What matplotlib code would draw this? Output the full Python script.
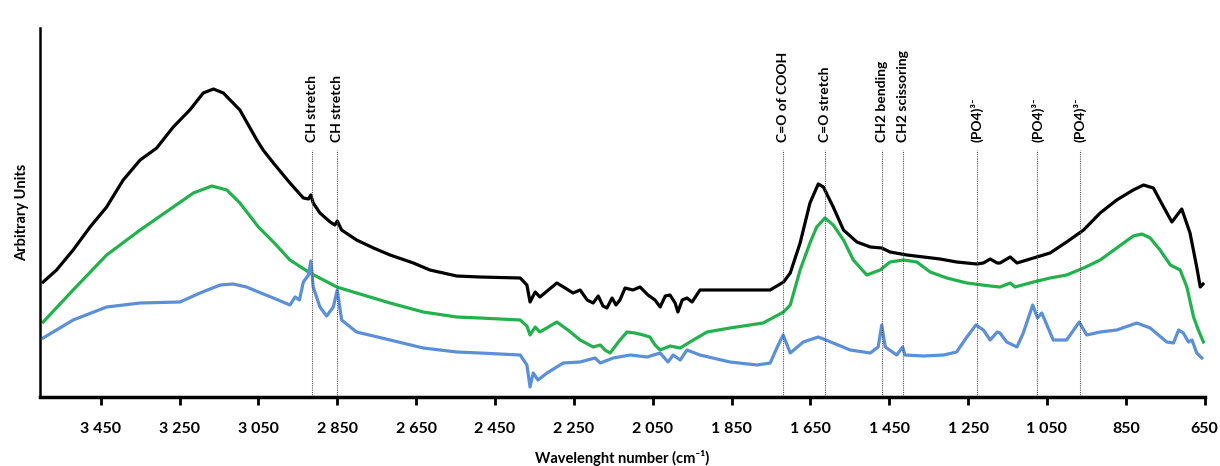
import matplotlib
matplotlib.use("Agg")
import matplotlib.pyplot as plt

# ---- data (wavenumber cm-1, arbitrary units) ----
black_wn = [3596, 3562, 3520, 3477, 3435, 3393, 3350, 3308, 3266, 3224, 3190, 3164, 3139, 3097, 3054,
            3038, 3012, 2970, 2936, 2923, 2917, 2911, 2894, 2868, 2856, 2850, 2839, 2801, 2758, 2716,
            2657, 2615, 2547, 2488, 2386, 2369, 2361, 2348, 2336, 2293, 2272, 2252, 2234, 2216, 2201,
            2188, 2176, 2166, 2153, 2143, 2133, 2120, 2100, 2082, 2062, 2044, 2031, 2018, 2006, 1993,
            1986, 1975, 1963, 1950, 1930, 1854, 1752, 1718, 1701, 1676, 1651, 1630, 1617, 1592, 1566,
            1532, 1498, 1469, 1448, 1405, 1363, 1321, 1279, 1228, 1211, 1194, 1176, 1169, 1143, 1126,
            1084, 1042, 1000, 957, 915, 873, 831, 805, 780, 754, 733, 708, 687, 670, 661, 654]
black_val = [115, 127, 147, 170, 190, 217, 237, 249, 270, 287, 304, 308, 304, 287, 257,
             247, 234, 214, 199, 198, 202, 194, 184, 175, 172, 176, 167, 157, 149, 142,
             134, 127, 121, 120, 119, 112, 95, 105, 100, 114, 109, 104, 107, 97, 94,
             101, 91, 89, 99, 92, 97, 109, 107, 110, 102, 97, 90, 101, 102, 94,
             85, 97, 99, 95, 107, 107, 107, 115, 124, 154, 194, 213, 210, 190, 167,
             155, 150, 149, 145, 142, 140, 138, 135, 133, 134, 138, 134, 134, 140, 134,
             139, 144, 155, 167, 184, 197, 207, 212, 209, 190, 175, 188, 164, 130, 110, 113]

green_wn = [3596, 3520, 3435, 3350, 3266, 3215, 3168, 3130, 3097, 3050, 3012, 2970, 2919, 2851, 2801,
            2716, 2632, 2547, 2488, 2386, 2369, 2361, 2348, 2336, 2293, 2265, 2234, 2201, 2183, 2171,
            2158, 2133, 2115, 2095, 2074, 2057, 2044, 2031, 2006, 1980, 1947, 1912, 1854, 1770, 1718,
            1701, 1676, 1651, 1634, 1613, 1592, 1566, 1541, 1507, 1473, 1448, 1414, 1380, 1346, 1304,
            1253, 1194, 1169, 1143, 1131, 1084, 1042, 1000, 957, 915, 873, 831, 809, 788, 763,
            737, 712, 695, 678, 666, 653]
green_val = [75, 107, 142, 167, 190, 204, 211, 207, 194, 170, 155, 137, 124, 110, 104,
             94, 85, 80, 79, 77, 71, 62, 70, 65, 75, 67, 57, 50, 52, 47,
             44, 57, 65, 64, 62, 60, 52, 47, 51, 49, 57, 65, 69, 74, 85,
             92, 127, 154, 170, 179, 172, 157, 137, 122, 127, 135, 137, 135, 125, 119,
             114, 111, 110, 114, 110, 115, 119, 122, 129, 137, 149, 161, 163, 159, 147,
             132, 127, 110, 80, 67, 55]

blue_wn = [3596, 3520, 3435, 3350, 3249, 3198, 3147, 3114, 3080, 3050, 3012, 2970, 2957, 2946, 2936,
           2923, 2917, 2911, 2894, 2877, 2860, 2850, 2839, 2801, 2716, 2632, 2547, 2488, 2386, 2369,
           2361, 2353, 2341, 2318, 2277, 2234, 2196, 2183, 2150, 2107, 2064, 2031, 2011, 1998, 1980,
           1963, 1930, 1854, 1785, 1752, 1734, 1719, 1701, 1668, 1630, 1592, 1549, 1498, 1478, 1469,
           1460, 1431, 1416, 1410, 1363, 1312, 1279, 1253, 1230, 1211, 1194, 1176, 1169, 1152, 1126,
           1110, 1086, 1074, 1063, 1034, 1000, 968, 949, 915, 873, 822, 788, 746, 729, 716,
           704, 691, 682, 670, 657]
blue_val = [59, 77, 90, 94, 95, 104, 112, 113, 110, 105, 99, 92, 100, 97, 115,
            122, 136, 110, 90, 81, 90, 107, 77, 65, 57, 49, 45, 44, 42, 32,
            10, 24, 17, 24, 34, 35, 39, 34, 39, 42, 40, 44, 35, 42, 37,
            47, 42, 35, 32, 34, 50, 62, 44, 55, 60, 54, 47, 44, 50, 72,
            50, 42, 50, 42, 41, 42, 45, 60, 72, 67, 57, 65, 64, 55, 50,
            64, 92, 79, 84, 57, 57, 75, 62, 65, 67, 74, 69, 55, 54, 67,
            64, 55, 57, 44, 39]

band_pos = [2915, 2850, 1720, 1612, 1469, 1415, 1228, 1074, 967]
band_labels = ["CH stretch", "CH stretch", "C=O of COOH", "C=O stretch", "CH2 bending",
               "CH2 scissoring", "(PO4)³⁻", "(PO4)³⁻", "(PO4)³⁻"]

xticks = [3450, 3250, 3050, 2850, 2650, 2450, 2250, 2050, 1850, 1650, 1450, 1250, 1050, 850, 650]

FONT = ["Lato", "DejaVu Sans"]
plt.rcParams["font.family"] = FONT

fig = plt.figure(figsize=(12.2, 4.66), dpi=100)
ax = fig.add_axes([40 / 1220, 69 / 466, 1165 / 1220, 369 / 466])

ax.plot(black_wn, black_val, color="#000000", lw=2.3, solid_joinstyle="round")
ax.plot(green_wn, green_val, color="#22b14c", lw=2.3, solid_joinstyle="round")
ax.plot(blue_wn, blue_val, color="#5b8fd8", lw=2.3, solid_joinstyle="round")

for wn, lab in zip(band_pos, band_labels):
    ax.vlines(wn, 0, 247, colors="#555555", linestyles=(0, (1, 1)), lw=0.8)
    ax.text(wn, 255, lab, rotation=90, ha="center", va="bottom", fontsize=10,
            fontweight="bold", family=FONT)

ax.set_xlim(3604, 649)
ax.set_ylim(0, 369)
ax.set_yticks([])
ax.set_xticks(xticks)
ax.set_xticklabels([f"{v:,}".replace(",", " ") for v in xticks], fontsize=11.5, fontweight="bold")
ax.tick_params(axis="x", direction="out", length=6, width=2, pad=12)

for s in ["top", "right"]:
    ax.spines[s].set_visible(False)
ax.spines["left"].set_linewidth(1.8)
ax.spines["bottom"].set_linewidth(2.5)

ax.set_ylabel("Arbitrary Units", fontsize=10.5, fontweight="bold", labelpad=8)
ax.set_xlabel("Wavelenght number (cm⁻¹)", fontsize=10.5, fontweight="bold", labelpad=10)

fig.savefig("out.png", dpi=100)
